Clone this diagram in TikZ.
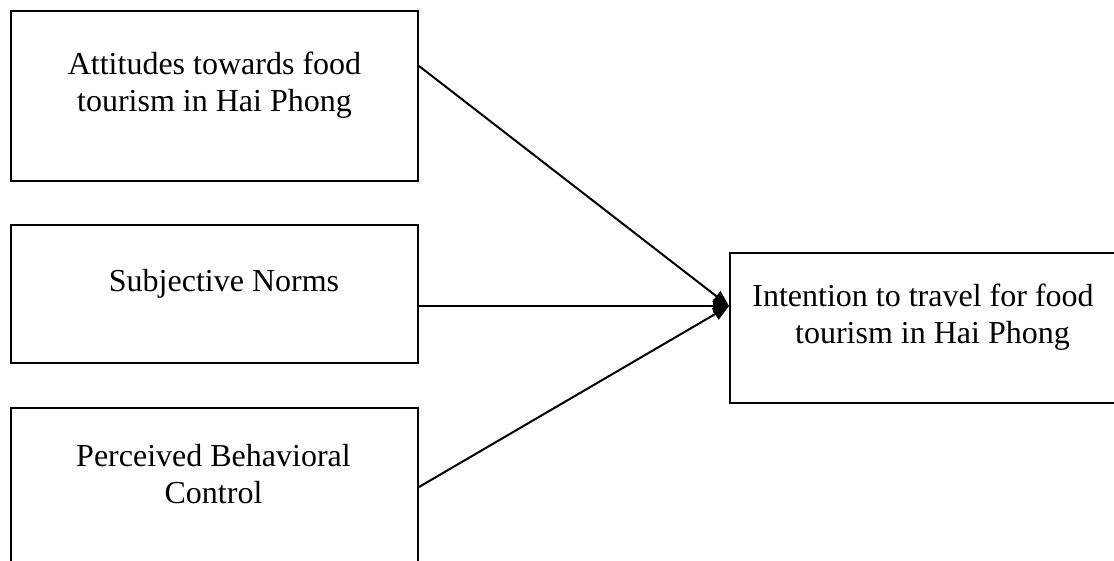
\documentclass[tikz,border=0pt]{standalone}
\usepackage{fontspec}
\setmainfont{Liberation Serif}
\usetikzlibrary{arrows.meta}
\begin{document}
\begin{tikzpicture}[x=1pt,y=-1pt,
  box/.style={draw=black,line width=2pt,rectangle,inner sep=0pt},
  txt/.style={inner sep=0pt,align=center,anchor=base,
    font=\fontsize{32}{37}\selectfont},
  link/.style={line width=2pt,-{Triangle[length=16pt,width=13pt]}}]
\useasboundingbox (0,0) rectangle (1114,561);
\clip (0,0) rectangle (1114,561);
% three antecedent boxes on the left
\node[box,minimum width=407pt,minimum height=170pt] (att) at (214.5,96) {};
\node[box,minimum width=407pt,minimum height=138pt] (sn) at (214.5,294) {};
\node[box,minimum width=407pt,minimum height=172pt] (pbc) at (214.5,494) {};
% outcome box on the right, running past the edge
\node[box,minimum width=400pt,minimum height=150pt] (int) at (930,328) {};
% box texts (anchored on the baseline of their last line)
\node[txt] (attT) at (214.5,112) {Attitudes towards food\\tourism in Hai Phong};
\node[txt] (snT) at (224,292) {Subjective Norms};
\node[txt] (pbcT) at (213.5,503) {Perceived Behavioral\\Control};
\node[txt] (intT) at (923,344) {Intention to travel for food\\\hspace*{19pt}tourism in Hai Phong};
% arrows converging on the outcome box
\coordinate (tip) at ([yshift=22pt]int.west);
\draw[link] ([yshift=30pt]att.east) -- (tip);
\draw[link] ([yshift=-12pt]sn.east) -- (tip);
\draw[link] ([yshift=7pt]pbc.east) -- (tip);
\end{tikzpicture}
\end{document}
